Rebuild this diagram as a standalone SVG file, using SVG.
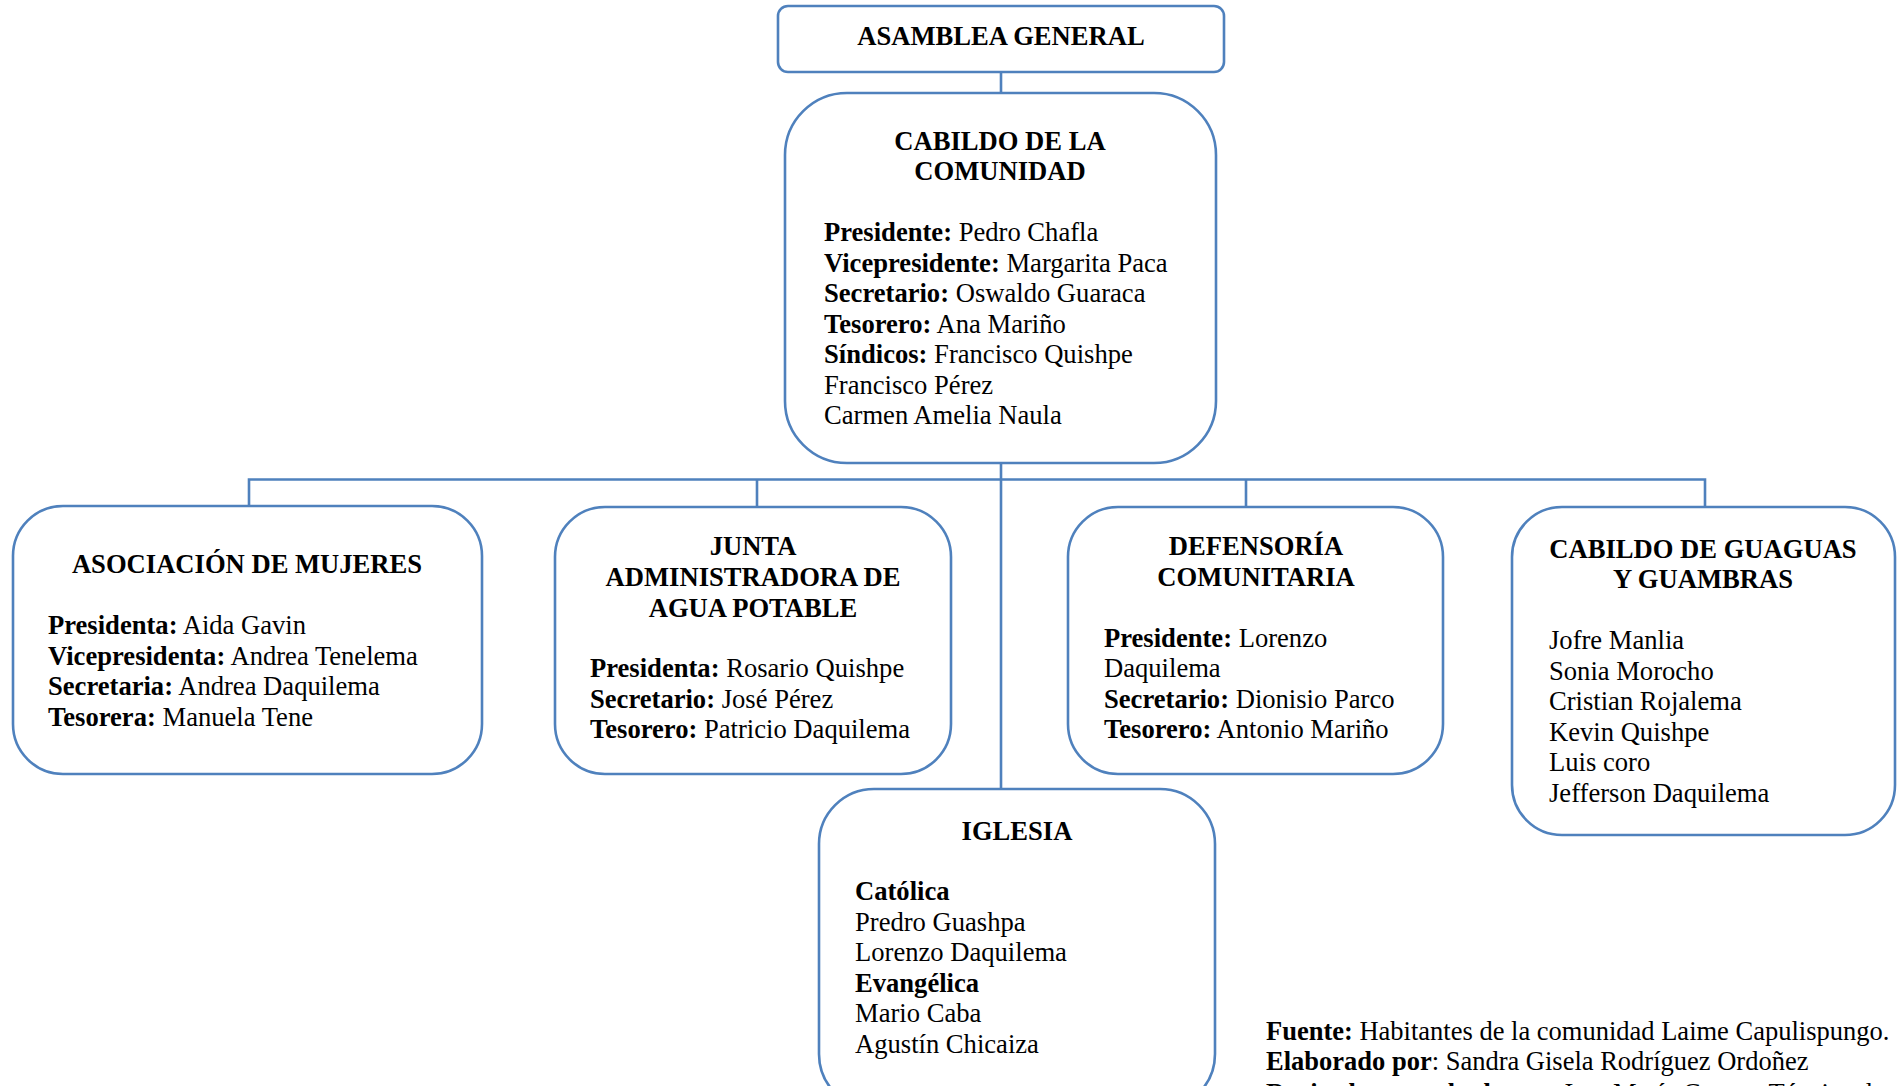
<svg xmlns="http://www.w3.org/2000/svg" width="1899" height="1086" viewBox="0 0 1899 1086">
<style>
.box{fill:#fff;stroke:#4F81BD;stroke-width:2.6}
.ln{fill:none;stroke:#4F81BD;stroke-width:2.6}
text{font-family:"Liberation Serif","Times New Roman",serif;font-size:26.6px;fill:#000}
.t{font-weight:bold;text-anchor:middle}
.b{font-weight:bold}
.f{font-size:26.5px}
</style>
<rect width="1899" height="1086" fill="#fff"/>
<g id="connectors">
<line class="ln" x1="1001" y1="72" x2="1001" y2="93"/>
<line class="ln" x1="1001" y1="463" x2="1001" y2="789"/>
<polyline class="ln" points="249,505 249,479.5 1705,479.5 1705,507"/>
<line class="ln" x1="757" y1="479.5" x2="757" y2="507"/>
<line class="ln" x1="1246" y1="479.5" x2="1246" y2="507"/>
</g>
<g id="asamblea">
<rect class="box" x="778" y="6" width="446" height="66" rx="10"/>
<text class="t" x="1001" y="45">ASAMBLEA GENERAL</text>
</g>
<g id="cabildo">
<rect class="box" x="785" y="93" width="431" height="370" rx="62"/>
<text class="t" x="1000" y="150">CABILDO DE LA</text>
<text class="t" x="1000" y="180">COMUNIDAD</text>
<text x="824" y="241"><tspan class="b">Presidente:</tspan> Pedro Chafla</text>
<text x="824" y="272"><tspan class="b">Vicepresidente:</tspan> Margarita Paca</text>
<text x="824" y="302"><tspan class="b">Secretario:</tspan> Oswaldo Guaraca</text>
<text x="824" y="333"><tspan class="b">Tesorero:</tspan> Ana Mariño</text>
<text x="824" y="363"><tspan class="b">Síndicos:</tspan> Francisco Quishpe</text>
<text x="824" y="394">Francisco Pérez</text>
<text x="824" y="424">Carmen Amelia Naula</text>
</g>
<g id="mujeres">
<rect class="box" x="13" y="506" width="469" height="268" rx="50"/>
<text class="t" x="247" y="573">ASOCIACIÓN DE MUJERES</text>
<text x="48" y="634"><tspan class="b">Presidenta:</tspan> Aida Gavin</text>
<text x="48" y="665"><tspan class="b">Vicepresidenta:</tspan> Andrea Tenelema</text>
<text x="48" y="695"><tspan class="b">Secretaria:</tspan> Andrea Daquilema</text>
<text x="48" y="726"><tspan class="b">Tesorera:</tspan> Manuela Tene</text>
</g>
<g id="junta">
<rect class="box" x="555" y="507" width="396" height="267" rx="50"/>
<text class="t" x="753" y="555">JUNTA</text>
<text class="t" x="753" y="586">ADMINISTRADORA DE</text>
<text class="t" x="753" y="617">AGUA POTABLE</text>
<text x="590" y="677"><tspan class="b">Presidenta:</tspan> Rosario Quishpe</text>
<text x="590" y="708"><tspan class="b">Secretario:</tspan> José Pérez</text>
<text x="590" y="738"><tspan class="b">Tesorero:</tspan> Patricio Daquilema</text>
</g>
<g id="defensoria">
<rect class="box" x="1068" y="507" width="375" height="267" rx="50"/>
<text class="t" x="1256" y="555">DEFENSORÍA</text>
<text class="t" x="1256" y="586">COMUNITARIA</text>
<text x="1104" y="647"><tspan class="b">Presidente:</tspan> Lorenzo</text>
<text x="1104" y="677">Daquilema</text>
<text x="1104" y="708"><tspan class="b">Secretario:</tspan> Dionisio Parco</text>
<text x="1104" y="738"><tspan class="b">Tesorero:</tspan> Antonio Mariño</text>
</g>
<g id="guaguas">
<rect class="box" x="1512" y="507" width="383" height="328" rx="50"/>
<text class="t" x="1703" y="558">CABILDO DE GUAGUAS</text>
<text class="t" x="1703" y="588">Y GUAMBRAS</text>
<text x="1549" y="649">Jofre Manlia</text>
<text x="1549" y="680">Sonia Morocho</text>
<text x="1549" y="710">Cristian Rojalema</text>
<text x="1549" y="741">Kevin Quishpe</text>
<text x="1549" y="771">Luis coro</text>
<text x="1549" y="802">Jefferson Daquilema</text>
</g>
<g id="iglesia">
<rect class="box" x="819" y="789" width="396" height="320" rx="55"/>
<text class="t" x="1017" y="840">IGLESIA</text>
<text class="b" x="855" y="900">Católica</text>
<text x="855" y="931">Predro Guashpa</text>
<text x="855" y="961">Lorenzo Daquilema</text>
<text class="b" x="855" y="992">Evangélica</text>
<text x="855" y="1022">Mario Caba</text>
<text x="855" y="1053">Agustín Chicaiza</text>
</g>
<g id="fuente">
<text class="f" x="1266" y="1040"><tspan class="b">Fuente:</tspan> Habitantes de la comunidad Laime Capulispungo.</text>
<text class="f" x="1266" y="1070"><tspan class="b">Elaborado por</tspan>: Sandra Gisela Rodríguez Ordoñez</text>
<text class="f" x="1266" y="1102"><tspan class="b">Revisado y aprobado por</tspan>: Ing. María Cuenca Técnica de</text>
</g>
</svg>
